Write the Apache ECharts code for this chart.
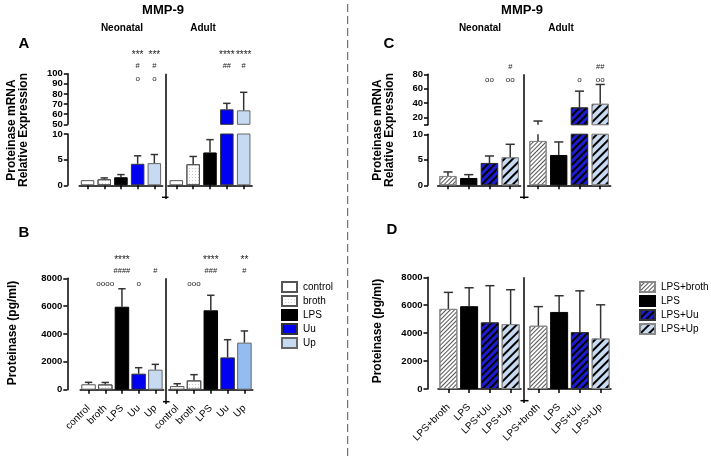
<!DOCTYPE html>
<html><head><meta charset="utf-8">
<script src="https://cdn.jsdelivr.net/npm/echarts@6/dist/echarts.min.js"></script>
<style>html,body{margin:0;padding:0;background:#fff}#c{width:711px;height:456px}</style>
</head><body><div id="c"></div>
<script>
// ---------- categories ----------
const catsAB = ['control', 'broth', 'LPS', 'Uu', 'Up'];
const catsCD = ['LPS+broth', 'LPS', 'LPS+Uu', 'LPS+Up'];
// ---------- Panel A: mRNA relative expression (mean, SD) ----------
const aNeoMean = [1.0, 1.18, 1.57, 4.19, 4.32];
const aNeoSD   = [0, 0.26, 0.52, 1.56, 1.68];
const aAduMean = [1.0, 4.12, 6.4, 64.8, 63.8];
const aAduSD   = [0, 1.5, 2.5, 5.9, 17.8];
// ---------- Panel B: protein pg/ml ----------
const bNeoMean = [390, 380, 5960, 1150, 1440];
const bNeoSD   = [140, 140, 1290, 430, 380];
const bAduMean = [260, 670, 5700, 2320, 3380];
const bAduSD   = [170, 410, 1080, 1270, 840];
// ---------- Panel C: mRNA relative expression ----------
const cNeoMean = [1.83, 1.44, 4.38, 5.49];
const cNeoSD   = [0.79, 0.65, 1.37, 2.55];
const cAduMean = [8.7, 5.95, 34, 39.1];
const cAduSD   = [6.4, 2.55, 22.6, 26.8];
// ---------- Panel D: protein pg/ml ----------
const dNeoMean = [5740, 5930, 4770, 4650];
const dNeoSD   = [1180, 1320, 2630, 2460];
const dAduMean = [4530, 5520, 4070, 3620];
const dAduSD   = [1370, 1160, 2960, 2410];
// ---------- significance marks ----------
const aNeoStars = ['', '', '', '***', '***'];
const aNeoHash  = ['', '', '', '#', '#'];
const aNeoCirc  = ['', '', '', 'o', 'o'];
const aAduStars = ['', '', '', '****', '****'];
const aAduHash  = ['', '', '', '##', '#'];
const aAduCirc  = ['', '', '', '', ''];
const bNeoStars = ['', '', '****', '', ''];
const bNeoHash  = ['', '', '####', '', '#'];
const bNeoCirc  = ['', 'oooo', '', 'o', ''];
const bAduStars = ['', '', '****', '', '**'];
const bAduHash  = ['', '', '###', '', '#'];
const bAduCirc  = ['', 'ooo', '', '', ''];
const cNeoStars = ['', '', '', ''];
const cNeoHash  = ['', '', '', '#'];
const cNeoCirc  = ['', '', 'oo', 'oo'];
const cAduStars = ['', '', '', ''];
const cAduHash  = ['', '', '', '##'];
const cAduCirc  = ['', '', 'o', 'oo'];
// ---------- axis ticks ----------
const aUpperRange = [50, 100, 10];
const aLowerRange = [0, 10, 5];
const cUpperLabels = [20, 40, 60, 80];
const cUpperTicks = [10, 20, 40, 60, 80];
const cUpperRange = [10, 80];
const cLowerRange = [0, 10, 5];
const pgRange = [0, 8000, 2000];

const FONT = '"Liberation Sans", Arial, Helvetica, sans-serif';
const grids = [], xAxis = [], yAxis = [], series = [];

function makeGrid(o) {
  const i = grids.length;
  grids.push({left: o.left, top: o.top, width: o.width, height: o.height, containLabel: false});
  xAxis.push({
    gridIndex: i, type: 'category', data: o.cats, show: !!o.showX,
    offset: o.showX ? (o.xAxisY - (o.top + o.height)) : 0,
    axisLine: {show: true, lineStyle: {color: '#000', width: 1.5}},
    axisTick: {show: true, alignWithLabel: true, length: 4, lineStyle: {color: '#000', width: 1.5}},
    axisLabel: {show: !!o.showXLabels, rotate: 45, fontSize: 10, color: '#000', fontFamily: FONT, margin: 5, interval: 0},
    splitLine: {show: false}
  });
  const ya = {
    gridIndex: i, type: 'value', min: o.yMin, max: o.yMax, show: !!o.showY,
    offset: o.showY ? (o.left - o.yAxisX) : 0,
    axisLine: {show: true, lineStyle: {color: '#000', width: 1.5}},
    axisTick: {show: true, length: 4, lineStyle: {color: '#000', width: 1.5}},
    axisLabel: {fontSize: 9.5, fontWeight: 'bold', color: '#000', fontFamily: FONT, margin: 5,
      formatter: v => String(v)},
    splitLine: {show: false}
  };
  if (o.yInterval) ya.interval = o.yInterval;
  if (o.yLabelVals) { ya.axisLabel.customValues = o.yLabelVals; ya.axisTick.customValues = o.yTickVals; }
  yAxis.push(ya);
  return i;
}

function addBars(gi, cats, means, styles, barWidth, override) {
  cats.forEach((c, k) => {
    series.push({
      type: 'bar', name: c, xAxisIndex: gi, yAxisIndex: gi, stack: 's' + gi, barWidth: barWidth,
      data: means.map((m, j) => {
        if (j !== k) return '-';
        if (override && override[j]) return {value: m, itemStyle: override[j]};
        return m;
      }),
      itemStyle: styles[c], emphasis: {disabled: true}, animation: false, clip: true
    });
  });
}

function addErr(gi, means, sds, yMin, yMax, capFrac) {
  series.push({
    type: 'custom', xAxisIndex: gi, yAxisIndex: gi, z: 5, silent: true, animation: false,
    data: means.map((m, j) => [j, m, m + sds[j]]),
    renderItem: (p, api) => {
      const j = api.value(0), m = api.value(1), hi = api.value(2);
      if (!(hi > m)) return;
      const lo = Math.max(m, yMin), top = Math.min(hi, yMax);
      if (top <= lo) return;
      const p0 = api.coord([j, lo]), p1 = api.coord([j, top]);
      const hw = api.size([1, 0])[0] * capFrac;
      const st = {stroke: '#333', lineWidth: 1.5};
      const kids = [{type: 'line', shape: {x1: p0[0], y1: p0[1], x2: p1[0], y2: p1[1]}, style: st}];
      if (hi <= yMax) kids.push({type: 'line', shape: {x1: p1[0] - hw, y1: p1[1], x2: p1[0] + hw, y2: p1[1]}, style: st});
      return {type: 'group', children: kids};
    }
  });
}

function addAnn(gi, rows, yMax) {
  const offs = [-18, -7.5, 5.5];
  const sizes = [10, 7.5, 8];
  series.push({
    type: 'custom', xAxisIndex: gi, yAxisIndex: gi, z: 6, silent: true, animation: false,
    data: rows[0].map((_, j) => [j, yMax]),
    renderItem: (p, api) => {
      const j = p.dataIndex;
      const pt = api.coord([api.value(0), api.value(1)]);
      const kids = [];
      rows.forEach((r, ri) => {
        if (r[j]) kids.push({type: 'text', x: pt[0], y: pt[1] + offs[ri],
          style: {text: r[j], fontSize: sizes[ri], fill: '#222', align: 'center', verticalAlign: 'middle', fontFamily: FONT}});
      });
      return {type: 'group', children: kids};
    }
  });
}

const stylesAB = {
  control: {color: '#fff', borderColor: '#555', borderWidth: 1},
  broth: {color: '#fff', borderColor: '#555', borderWidth: 1,
    decal: {symbol: 'circle', symbolSize: 0.8, dashArrayX: [1, 2], dashArrayY: [1, 2], color: '#888'}},
  LPS: {color: '#000', borderColor: '#000', borderWidth: 1},
  Uu: {color: '#0000f2', borderColor: '#333', borderWidth: 1},
  Up: {color: '#c6daf2', borderColor: '#666', borderWidth: 1}
};
const stylesCD = {
  'LPS+broth': {color: '#fff', borderColor: '#888', borderWidth: 1,
    decal: {symbol: 'rect', symbolSize: 1, dashArrayX: [1, 0], dashArrayY: [1, 1.5], rotation: -Math.PI / 4, color: '#555'}},
  'LPS': {color: '#000', borderColor: '#000', borderWidth: 1},
  'LPS+Uu': {color: '#1c1cd0', borderColor: '#333', borderWidth: 1,
    decal: {symbol: 'rect', symbolSize: 1, dashArrayX: [1, 0], dashArrayY: [1.6, 2.6], rotation: -Math.PI / 4, color: '#000'}},
  'LPS+Up': {color: '#c6daf2', borderColor: '#888', borderWidth: 1,
    decal: {symbol: 'rect', symbolSize: 1, dashArrayX: [1, 0], dashArrayY: [2, 3.5], rotation: -Math.PI / 4, color: '#000'}}
};

// ----- Panel A -----
const aNL = makeGrid({left: 79.2, top: 134, width: 83.5, height: 51.3, cats: catsAB, yMin: aLowerRange[0], yMax: aLowerRange[1], yInterval: aLowerRange[2], showY: true, yAxisX: 67.8, showX: true, xAxisY: 197.3});
const aNU = makeGrid({left: 79.2, top: 73.7, width: 83.5, height: 50.6, cats: catsAB, yMin: aUpperRange[0], yMax: aUpperRange[1], yInterval: aUpperRange[2], showY: true, yAxisX: 67.8, showX: false});
const aAL = makeGrid({left: 167.9, top: 134, width: 84.2, height: 51.3, cats: catsAB, yMin: aLowerRange[0], yMax: aLowerRange[1], showY: false, showX: true, xAxisY: 197.3});
const aAU = makeGrid({left: 167.9, top: 73.7, width: 84.2, height: 50.6, cats: catsAB, yMin: aUpperRange[0], yMax: aUpperRange[1], showY: false, showX: false});
[[aNL, aNeoMean, aNeoSD, aLowerRange], [aNU, aNeoMean, aNeoSD, aUpperRange], [aAL, aAduMean, aAduSD, aLowerRange], [aAU, aAduMean, aAduSD, aUpperRange]].forEach(([g, m, s, r]) => {
  addBars(g, catsAB, m, stylesAB, 13.5);
  addErr(g, m, s, r[0], r[1], 0.22);
});
addAnn(aNU, [aNeoStars, aNeoHash, aNeoCirc], aUpperRange[1]);
addAnn(aAU, [aAduStars, aAduHash, aAduCirc], aUpperRange[1]);

// ----- Panel B -----
const bN = makeGrid({left: 80.2, top: 278.3, width: 83.5, height: 111.4, cats: catsAB, yMin: pgRange[0], yMax: pgRange[1], yInterval: pgRange[2], showY: true, yAxisX: 67.3, showX: true, xAxisY: 401.7, showXLabels: true});
const bA = makeGrid({left: 168.8, top: 278.3, width: 84, height: 111.4, cats: catsAB, yMin: pgRange[0], yMax: pgRange[1], showY: false, showX: true, xAxisY: 401.7, showXLabels: true});
addBars(bN, catsAB, bNeoMean, stylesAB, 14.5);
addBars(bA, catsAB, bAduMean, stylesAB, 14.5, {4: {color: '#93bdf0', borderColor: '#666', borderWidth: 1}});
addErr(bN, bNeoMean, bNeoSD, pgRange[0], pgRange[1], 0.22);
addErr(bA, bAduMean, bAduSD, pgRange[0], pgRange[1], 0.22);
addAnn(bN, [bNeoStars, bNeoHash, bNeoCirc], pgRange[1]);
addAnn(bA, [bAduStars, bAduHash, bAduCirc], pgRange[1]);

// ----- Panel C -----
const cNL = makeGrid({left: 437.6, top: 134.3, width: 83, height: 51, cats: catsCD, yMin: cLowerRange[0], yMax: cLowerRange[1], yInterval: cLowerRange[2], showY: true, yAxisX: 428, showX: true, xAxisY: 197.3});
const cNU = makeGrid({left: 437.6, top: 74.3, width: 83, height: 50.4, cats: catsCD, yMin: cUpperRange[0], yMax: cUpperRange[1], yLabelVals: cUpperLabels, yTickVals: cUpperTicks, showY: true, yAxisX: 428, showX: false});
const cAL = makeGrid({left: 527.6, top: 134.3, width: 83, height: 51, cats: catsCD, yMin: cLowerRange[0], yMax: cLowerRange[1], showY: false, showX: true, xAxisY: 197.3});
const cAU = makeGrid({left: 527.6, top: 74.3, width: 83, height: 50.4, cats: catsCD, yMin: cUpperRange[0], yMax: cUpperRange[1], showY: false, showX: false});
[[cNL, cNeoMean, cNeoSD, cLowerRange], [cNU, cNeoMean, cNeoSD, cUpperRange], [cAL, cAduMean, cAduSD, cLowerRange], [cAU, cAduMean, cAduSD, cUpperRange]].forEach(([g, m, s, r]) => {
  addBars(g, catsCD, m, stylesCD, 17.3);
  addErr(g, m, s, r[0], r[1], 0.22);
});
addAnn(cNU, [cNeoStars, cNeoHash, cNeoCirc], cUpperRange[1]);
addAnn(cAU, [cAduStars, cAduHash, cAduCirc], cUpperRange[1]);

// ----- Panel D -----
const dN = makeGrid({left: 438, top: 277.3, width: 83, height: 111.7, cats: catsCD, yMin: pgRange[0], yMax: pgRange[1], yInterval: pgRange[2], showY: true, yAxisX: 427.5, showX: true, xAxisY: 400.7, showXLabels: true});
const dA = makeGrid({left: 528, top: 277.3, width: 83, height: 111.7, cats: catsCD, yMin: pgRange[0], yMax: pgRange[1], showY: false, showX: true, xAxisY: 400.7, showXLabels: true});
addBars(dN, catsCD, dNeoMean, stylesCD, 18);
addBars(dA, catsCD, dAduMean, stylesCD, 18);
addErr(dN, dNeoMean, dNeoSD, pgRange[0], pgRange[1], 0.22);
addErr(dA, dAduMean, dAduSD, pgRange[0], pgRange[1], 0.22);

// ----- decorations -----
const ln = (x1, y1, x2, y2, extra) => Object.assign({type: 'line', silent: true, shape: {x1, y1, x2, y2}, style: {stroke: '#000', lineWidth: 1.5}}, extra || {});
const tstyle = (text, size) => ({text, fontSize: size, fontWeight: 'bold', fill: '#000', align: 'center', verticalAlign: 'middle', fontFamily: FONT, lineHeight: 12});
const txt = (x, y, text, size, extra) => Object.assign({type: 'text', silent: true, x, y, style: tstyle(text, size)}, extra || {});
const graphic = [
  ln(347.7, 4, 347.7, 456, {style: {stroke: '#555', lineWidth: 1, lineDash: [8, 4]}}),
  ln(166, 73.7, 166, 199), ln(166, 278.3, 166, 404),
  ln(524, 74.3, 524, 199), ln(524, 277.3, 524, 403),
  ln(162, 197.3, 168.5, 197.3), ln(163, 401.7, 169.5, 401.7),
  ln(520, 197.3, 528.5, 197.3), ln(520.5, 400.7, 528.5, 400.7),
  txt(163, 10, 'MMP-9', 13), txt(522, 10, 'MMP-9', 13),
  txt(122, 28.5, 'Neonatal', 10), txt(203, 28.5, 'Adult', 10),
  txt(480, 28.5, 'Neonatal', 10), txt(561, 28.5, 'Adult', 10),
  txt(24, 44, 'A', 15), txt(24, 233, 'B', 15), txt(389, 44, 'C', 15), txt(392, 230, 'D', 15),
  txt(18, 130, 'Proteinase mRNA\nRelative Expression', 12, {rotation: Math.PI / 2}),
  txt(384, 130, 'Proteinase mRNA\nRelative Expression', 12, {rotation: Math.PI / 2}),
  txt(13, 333, 'Proteinase (pg/ml)', 12, {rotation: Math.PI / 2}),
  txt(378, 331, 'Proteinase (pg/ml)', 12, {rotation: Math.PI / 2})
];

const legendBase = {orient: 'vertical', itemWidth: 15, itemHeight: 10, itemGap: 2, icon: 'rect', selectedMode: false,
  textStyle: {fontSize: 10, color: '#000', fontFamily: FONT, padding: [0, 0, 0, 1]}, padding: 0};

const chart = echarts.init(document.getElementById('c'), null, {renderer: 'canvas'});
chart.setOption({
  animation: false,
  grid: grids, xAxis: xAxis, yAxis: yAxis, series: series,
  legend: [
    Object.assign({data: catsAB, left: 281, top: 281}, legendBase),
    Object.assign({data: catsCD, left: 639, top: 281}, legendBase)
  ],
  graphic: graphic
});
</script></body></html>
